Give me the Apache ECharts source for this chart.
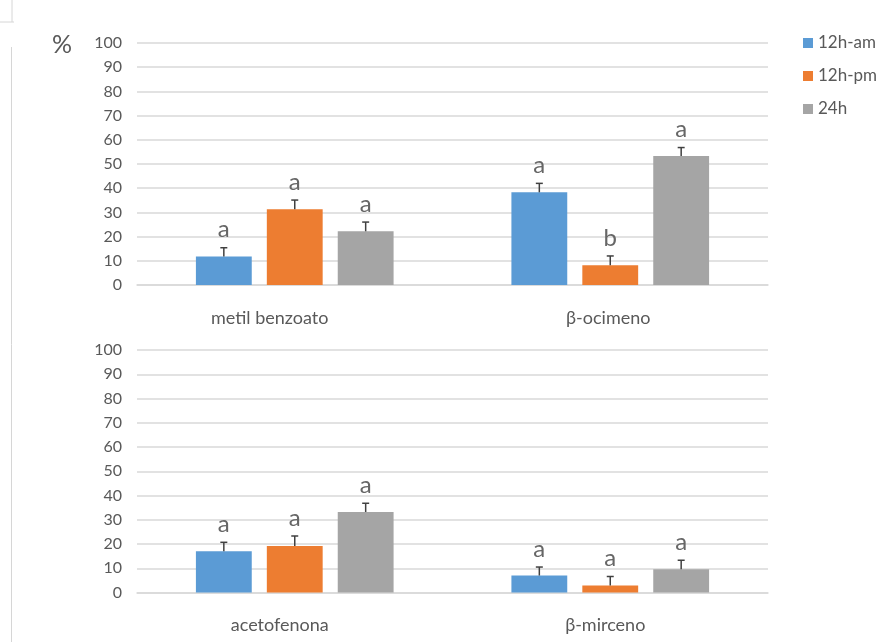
<!DOCTYPE html>
<html>
<head>
<meta charset="utf-8">
<script src="https://cdn.jsdelivr.net/npm/echarts@6/dist/echarts.min.js"></script>
<style>
  html, body { margin: 0; padding: 0; background: #fff; }
  #chart { width: 895px; height: 642px; }
</style>
</head>
<body>
<div id="chart"></div>
<script>
// --- DATA ---
const periods = ['12h-am', '12h-pm', '24h'];
const topCategories = ['metil benzoato', 'β-ocimeno'];
const bottomCategories = ['acetofenona', 'β-mirceno'];
const yTicks = [0, 10, 20, 30, 40, 50, 60, 70, 80, 90, 100];

// values per period: [cat1, cat2]
const topValues = [[11.8, 38.3], [31.3, 8.2], [22.2, 53.3]];
const topErrors = [[3.6, 3.7], [3.8, 3.8], [3.8, 3.5]];
const topLetters = [['a', 'a'], ['a', 'b'], ['a', 'a']];

const bottomValues = [[17.0, 7.0], [19.2, 2.9], [33.2, 9.6]];
const bottomErrors = [[3.7, 3.5], [4.1, 3.7], [3.6, 3.7]];
const bottomLetters = [['a', 'a'], ['a', 'a'], ['a', 'a']];

// --- STYLE ---
const colors = ['#5b9bd5', '#ed7d31', '#a5a5a5'];
const textColor = '#595959';
const gridColor = '#d9d9d9';
const font = 'Lato, "Open Sans", sans-serif';
const BAR_FRAC = 0.177;
const BAR_GAP = 0.27;
// small horizontal nudges of the category labels (px, negative = left)
const topLabelShift = [-25, -2];
const bottomLabelShift = [-15, -5];

const chart = echarts.init(document.getElementById('chart'));

const makeXAxis = (gridIndex, cats, shifts) => ({
    type: 'category', gridIndex,
    data: cats.map((c, i) => ({
        value: c,
        textStyle: { padding: shifts[i] < 0 ? [0, -2 * shifts[i], 0, 0] : [0, 0, 0, 2 * shifts[i]] }
    })),
    axisLine: { lineStyle: { color: gridColor, width: 1.5 } },
    axisTick: { show: false },
    axisLabel: { color: textColor, fontFamily: font, fontSize: 18, margin: 24 }
});

const makeYAxis = (gridIndex) => ({
    type: 'value', gridIndex, min: yTicks[0], max: yTicks[yTicks.length - 1], interval: yTicks[1] - yTicks[0],
    axisLine: { show: false },
    axisTick: { show: false },
    axisLabel: { color: textColor, fontFamily: font, fontSize: 16, margin: 15 },
    splitLine: { lineStyle: { color: gridColor, width: 1.5 } }
});

// error bar (upper half only, with cap) plus the significance letter above it
const renderErr = (pIdx, letters) => (params, api) => {
    const cat = api.value(0);
    const val = api.value(1);
    const err = api.value(2);
    const letter = letters[params.dataIndex];
    const band = api.size([1, 0])[0];
    const bw = band * BAR_FRAC;
    const off = (pIdx - 1) * bw * (1 + BAR_GAP);
    const base = api.coord([cat, val]);
    const top = api.coord([cat, val + err]);
    const x = base[0] + off;
    return {
        type: 'group',
        children: [
            { type: 'line', shape: { x1: x, y1: base[1], x2: x, y2: top[1] }, style: { stroke: '#404040', lineWidth: 1.5 } },
            { type: 'line', shape: { x1: x - 3.5, y1: top[1], x2: x + 3.5, y2: top[1] }, style: { stroke: '#404040', lineWidth: 1.5 } },
            { type: 'text', x: x, y: top[1] - 6, style: { text: letter, fill: '#666', font: '24px ' + font, align: 'center', verticalAlign: 'bottom' } }
        ]
    };
};

const makeSeries = (gridIndex, values, errors, letters) => {
    const out = [];
    periods.forEach((p, i) => {
        out.push({
            name: p, type: 'bar', xAxisIndex: gridIndex, yAxisIndex: gridIndex,
            data: values[i], barWidth: (BAR_FRAC * 100) + '%', barGap: (BAR_GAP * 100) + '%',
            itemStyle: { color: colors[i] }, silent: true
        });
    });
    periods.forEach((p, i) => {
        out.push({
            name: 'err-' + p + '-' + gridIndex, type: 'custom', xAxisIndex: gridIndex, yAxisIndex: gridIndex,
            renderItem: renderErr(i, letters[i]), z: 5, silent: true,
            data: values[i].map((v, c) => [c, v, errors[i][c]])
        });
    });
    return out;
};

const option = {
    animation: false,
    backgroundColor: '#fff',
    textStyle: { fontFamily: font },
    legend: {
        data: periods, orient: 'vertical', left: 798, top: 28,
        icon: 'rect', itemWidth: 10, itemHeight: 10, itemGap: 13,
        textStyle: { color: textColor, fontSize: 17, fontFamily: font, lineHeight: 20 }
    },
    grid: [
        { left: 137, right: 127, top: 43, height: 242 },
        { left: 137, right: 127, top: 350, height: 242.5 }
    ],
    xAxis: [makeXAxis(0, topCategories, topLabelShift), makeXAxis(1, bottomCategories, bottomLabelShift)],
    yAxis: [makeYAxis(0), makeYAxis(1)],
    series: [
        ...makeSeries(0, topValues, topErrors, topLetters),
        ...makeSeries(1, bottomValues, bottomErrors, bottomLetters)
    ],
    graphic: [
        { type: 'text', left: 52, top: 32, style: { text: '%', fill: textColor, font: '25px ' + font } },
        { type: 'line', shape: { x1: 12, y1: 0, x2: 12, y2: 22 }, style: { stroke: '#d6d6d6', lineWidth: 1 } },
        { type: 'line', shape: { x1: 0, y1: 22, x2: 14, y2: 22 }, style: { stroke: '#d6d6d6', lineWidth: 1 } },
        { type: 'line', shape: { x1: 11.5, y1: 47, x2: 11.5, y2: 642 }, style: { stroke: '#d6d6d6', lineWidth: 1 } }
    ]
};

chart.setOption(option);
</script>
</body>
</html>
